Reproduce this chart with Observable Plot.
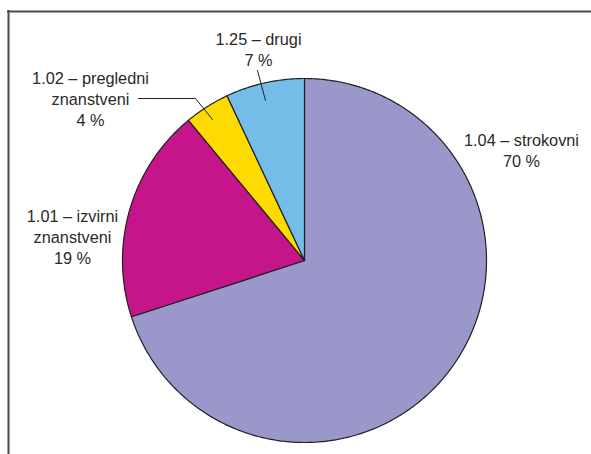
<!DOCTYPE html>
<html>
<head>
<meta charset="utf-8">
<script src="https://cdn.jsdelivr.net/npm/d3@7"></script>
<script src="https://cdn.jsdelivr.net/npm/@observablehq/plot@0.6"></script>
<style>
  html, body { margin: 0; padding: 0; background: #fff; }
  #chart svg { display: block; }
</style>
</head>
<body>
<div id="chart"></div>
<script>
// ---- data ----
const codes = ["1.04", "1.01", "1.02", "1.25"];
const names = ["strokovni", "izvirni\nznanstveni", "pregledni\nznanstveni", "drugi"];
const shares = [70, 19, 4, 7];
const colors = ["#9a98ca", "#c4168a", "#fedb00", "#74bde8"];

// ---- layout ----
const W = 591, H = 454;
const cx = 304, cy = 260, R = 182;
const ux = px => (px - cx) / R;
const uy = py => (cy - py) / R;

const labelPos = [[521, 149], [72, 236], [90, 98], [258, 48]];
const labelText = [
  "1.04 – strokovni\n70 %",
  "1.01 – izvirni\nznanstveni\n19 %",
  "1.02 – pregledni\nznanstveni\n4 %",
  "1.25 – drugi\n7 %"
];
const leaders = [
  [[138, 98], [195, 98], [212, 119]],
  [[257, 70], [265, 100]]
];

const rows = codes.map((c, i) => ({code: c, name: names[i], share: shares[i], color: colors[i]}));
const arcs = d3.pie().value(d => d.share).sort(null)(rows);

const slicePts = [];
arcs.forEach(a => {
  const n = Math.max(4, Math.ceil((a.endAngle - a.startAngle) / 0.01));
  slicePts.push({k: a.data.code, x: 0, y: 0});
  for (let j = 0; j <= n; j++) {
    const t = a.startAngle + (a.endAngle - a.startAngle) * j / n;
    slicePts.push({k: a.data.code, x: Math.sin(t), y: Math.cos(t)});
  }
  slicePts.push({k: a.data.code, x: 0, y: 0});
});

const labels = labelText.map((t, i) => ({t, x: ux(labelPos[i][0]), y: uy(labelPos[i][1])}));
const leaderPts = leaders.flatMap((l, i) => l.map(p => ({k: i, x: ux(p[0]), y: uy(p[1])})));

const chart = Plot.plot({
  width: W,
  height: H,
  margin: 0,
  x: {domain: [ux(0), ux(W)], range: [0, W], axis: null},
  y: {domain: [uy(H), uy(0)], range: [H, 0], axis: null},
  color: {domain: codes, range: colors},
  style: {fontFamily: "Liberation Sans, Arial, Helvetica, sans-serif", background: "#fff"},
  marks: [
    Plot.ruleY([uy(11)], {stroke: "#4a4a4a", strokeWidth: 2, insetLeft: 7}),
    Plot.ruleX([ux(8)], {stroke: "#4a4a4a", strokeWidth: 2, insetTop: 10}),
    Plot.line(slicePts, {x: "x", y: "y", z: "k", fill: "k", stroke: "#231f20", strokeWidth: 1.2, strokeLinejoin: "round"}),
    Plot.line(leaderPts, {x: "x", y: "y", z: "k", stroke: "#231f20", strokeWidth: 1}),
    Plot.text(labels, {x: "x", y: "y", text: "t", fontSize: 16.3, lineHeight: 1.29, fill: "#2a2a2a", textAnchor: "middle"})
  ]
});
document.getElementById("chart").appendChild(chart);
</script>
</body>
</html>
